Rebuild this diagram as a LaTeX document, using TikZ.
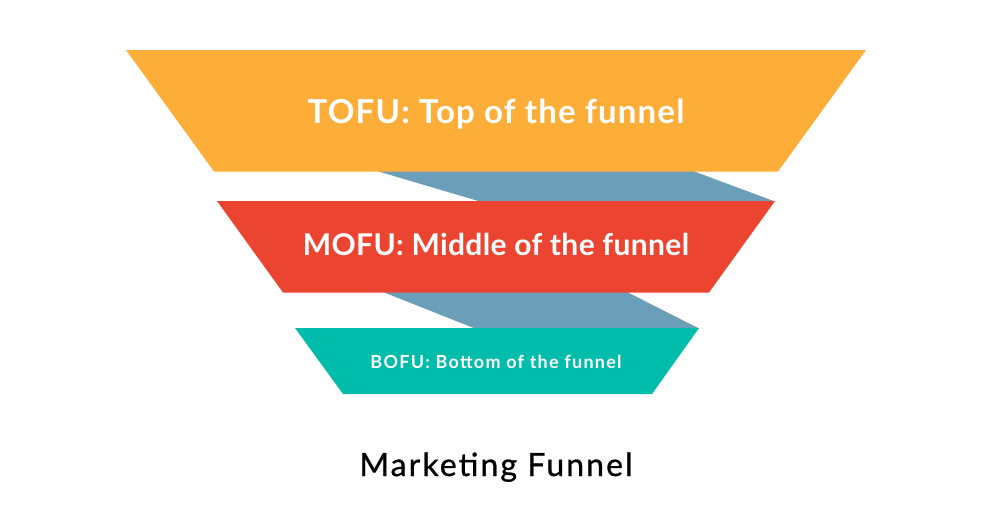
\documentclass[tikz,border=0pt]{standalone}
\usepackage{fontspec}
\setmainfont{Lato}
\newfontfamily\tofufont[LetterSpace=3.6]{Lato}
\newfontfamily\mofufont[LetterSpace=1.2]{Lato}
\newfontfamily\bofufont[LetterSpace=7]{Lato}
\newfontfamily\titlefont[LetterSpace=6.5,FakeBold=0.8]{Lato}
\definecolor{tofu}{HTML}{FDAE38}
\definecolor{mofu}{HTML}{EB4430}
\definecolor{bofu}{HTML}{00BCAB}
\definecolor{band}{HTML}{6B9EB8}
\tikzset{lbl/.style={text=white,inner sep=0pt,anchor=base}}
\begin{document}
\begin{tikzpicture}[x=1pt,y=-1pt]
\useasboundingbox[fill=white] (0,0) rectangle (992,523);
% connecting bands
\fill[band] (377,171) -- (693,171) -- (775,201.5) -- (480,201.5) -- cycle;
\fill[band] (383,292) -- (627,292) -- (699,328.5) -- (475,328.5) -- cycle;
% funnel layers
\fill[tofu] (126,50) -- (866,50) -- (778,171.5) -- (214,171.5) -- cycle;
\fill[mofu] (217,201) -- (775,201) -- (709,292.5) -- (283,292.5) -- cycle;
\fill[bofu] (295,328) -- (699,328) -- (652,394) -- (343,394) -- cycle;
% labels
\node[lbl,font=\fontsize{33}{36}\tofufont\bfseries] (t) at (496,123) {TOFU: Top of the funnel};
\node[lbl,font=\fontsize{30}{34}\mofufont\bfseries] (m) at (496,255) {MOFU: Middle of the funnel};
\node[lbl,font=\fontsize{18}{20}\bofufont\bfseries] (b) at (496,368) {BOFU: Bottom of the funnel};
\node[inner sep=0pt,anchor=base,font=\fontsize{32}{36}\titlefont] (title) at (496,476) {Marketing Funnel};
\end{tikzpicture}
\end{document}
